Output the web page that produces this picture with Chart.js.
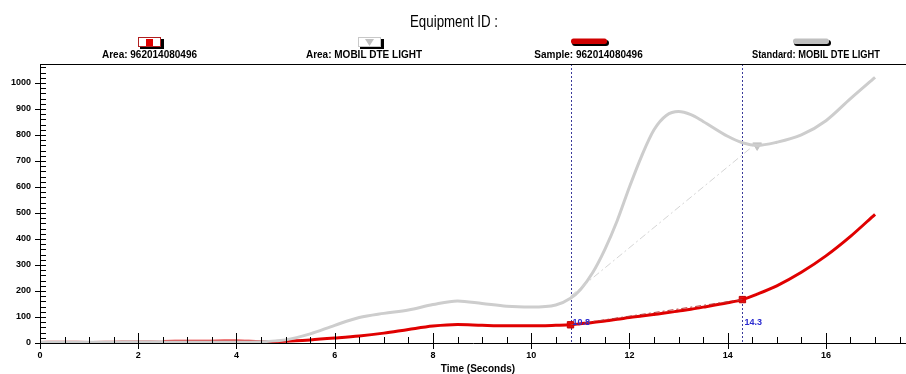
<!DOCTYPE html>
<html><head><meta charset="utf-8">
<script src="https://cdn.jsdelivr.net/npm/chart.js@4/dist/chart.umd.min.js"></script>
<style>html,body{margin:0;padding:0;background:#fff}#wrap{width:906px;height:374px}</style>
</head><body><div id="wrap"><canvas id="c" width="906" height="374"></canvas></div>
<script>
// ---- data ----
const chartTitle = 'Equipment ID :';
const xAxisTitle = 'Time (Seconds)';
const legendLabels = ['Area: 962014080496', 'Area: MOBIL DTE LIGHT', 'Sample: 962014080496', 'Standard: MOBIL DTE LIGHT'];
const time = [0,0.5,1,1.5,2,2.5,3,3.5,4,4.5,5,5.5,6,6.5,7,7.5,8,8.5,9,9.5,10,10.5,10.8,11,11.25,11.5,11.75,12,12.25,12.5,12.75,13,13.25,13.5,14,14.3,14.6,15,15.5,16,16.5,17];
const standard = [3,3,3,3,4,4,4,4,4,5,12,35,68,98,114,127,148,162,152,141,138,146,172,205,270,360,470,600,720,820,875,890,878,852,795,770,760,772,800,855,940,1022];
const sample = [5,6,5,6,7,6,7,7,8,6,7,12,19,27,38,52,65,71,68,66,66,68,70,74,79,85,91,98,104,110,116,123,130,138,155,167,188,220,272,335,410,495];
const markerTimes = [10.8, 14.3];
const markerLabels = ['10.8', '14.3'];
const sampleAreaX = [10.8, 14.3];
const sampleAreaY = [70, 167];
const standardAreaX = [10.8, 14.5];
const standardAreaY = [180, 755];
const standardMarkerX = [14.6];
const standardMarkerY = [760];
const xTickStep = 2, xMinorStep = 0.5, xMax = 17.63;
const yTickStep = 100, yMinorStep = 20, yMax = 1073;

const pts = (xs, ys) => xs.map((x, i) => ({x, y: ys[i]}));
const FONT = "'Liberation Sans', Arial, sans-serif";

const decor = {
  id: 'decor',
  beforeDatasetsDraw(chart) {
    const {ctx, chartArea: a, scales: {x}} = chart;
    ctx.save();
    ctx.strokeStyle = '#3a3a9a';
    ctx.lineWidth = 1;
    ctx.setLineDash([2, 2]);
    markerTimes.forEach(t => {
      const px = Math.round(x.getPixelForValue(t)) + 0.5;
      ctx.beginPath(); ctx.moveTo(px, a.top); ctx.lineTo(px, a.bottom); ctx.stroke();
    });
    ctx.restore();
  },
  afterDraw(chart) {
    const {ctx, chartArea: a, scales: {x, y}} = chart;
    ctx.save();
    ctx.strokeStyle = '#000'; ctx.lineWidth = 1;
    // top border
    ctx.beginPath(); ctx.moveTo(a.left, a.top + 0.5); ctx.lineTo(a.right, a.top + 0.5); ctx.stroke();
    // x ticks
    for (let v = 0; v <= xMax + 1e-9; v += xMinorStep) {
      const px = Math.round(x.getPixelForValue(v)) + 0.5;
      const major = Math.abs(v / xTickStep - Math.round(v / xTickStep)) < 1e-6;
      ctx.beginPath();
      if (major) { ctx.moveTo(px, a.bottom - 10); ctx.lineTo(px, a.bottom + 6); }
      else { ctx.moveTo(px, a.bottom - 6); ctx.lineTo(px, a.bottom); }
      ctx.stroke();
    }
    // y ticks
    for (let v = 0; v <= yMax + 1e-9; v += yMinorStep) {
      const py = Math.round(y.getPixelForValue(v)) + 0.5;
      const major = Math.abs(v / yTickStep - Math.round(v / yTickStep)) < 1e-6;
      ctx.beginPath();
      if (major) { ctx.moveTo(a.left - 5, py); ctx.lineTo(a.left + 6, py); }
      else { ctx.moveTo(a.left, py); ctx.lineTo(a.left + 6, py); }
      ctx.stroke();
    }
    // marker labels
    ctx.fillStyle = '#2a2ad0';
    ctx.font = 'bold 9px ' + FONT;
    ctx.textBaseline = 'middle'; ctx.textAlign = 'left';
    markerTimes.forEach((t, i) => {
      ctx.fillText(markerLabels[i], x.getPixelForValue(t) + 2, 323);
    });
    // title
    ctx.fillStyle = '#000';
    ctx.font = '16px ' + FONT;
    ctx.textAlign = 'center';
    ctx.fillText(chartTitle, 454, 23, 88);
    // x axis title
    ctx.font = 'bold 10px ' + FONT;
    ctx.fillText(xAxisTitle, 478, 369, 82);
    // legend
    const centers = [149.5, 364, 588.5, 816];
    const widths = [99, 128, 113, 128];
    ctx.font = 'bold 10px ' + FONT;
    legendLabels.forEach((t, i) => ctx.fillText(t, centers[i], 55, widths[i]));
    // icon 1: box with red square
    ctx.fillStyle = '#000'; ctx.fillRect(140, 39, 24, 10);
    ctx.fillStyle = '#fff'; ctx.fillRect(138, 37, 23, 10);
    ctx.strokeStyle = '#b02020'; ctx.strokeRect(138.5, 37.5, 22, 9);
    ctx.fillStyle = '#e00000'; ctx.fillRect(146, 39, 7, 7);
    // icon 2: box with grey triangle
    ctx.fillStyle = '#000'; ctx.fillRect(360, 39, 24, 10);
    ctx.fillStyle = '#fff'; ctx.fillRect(358, 37, 23, 10);
    ctx.strokeStyle = '#c8c8c8'; ctx.strokeRect(358.5, 37.5, 22, 9);
    ctx.fillStyle = '#c0c0c0';
    ctx.beginPath(); ctx.moveTo(365, 39); ctx.lineTo(374, 39); ctx.lineTo(369.5, 46); ctx.closePath(); ctx.fill();
    // icon 3 & 4: bars
    const bar = (x0, col) => {
      ctx.fillStyle = '#000';
      ctx.beginPath(); ctx.roundRect(x0 + 1, 40, 37, 6, 3); ctx.fill();
      ctx.fillStyle = col;
      ctx.beginPath(); ctx.roundRect(x0, 38.5, 36, 5.5, 2.5); ctx.fill();
    };
    bar(571, '#d00000');
    bar(793, '#c0c0c0');
    ctx.restore();
  }
};

new Chart(document.getElementById('c'), {
  type: 'line',
  data: {
    datasets: [
      { label: 'Standard chord', data: pts(standardAreaX, standardAreaY), borderColor: '#d4d4d4', borderWidth: 1, borderDash: [7, 3, 2, 3], pointRadius: 0, tension: 0 },
      { label: 'Standard', data: pts(time, standard), borderColor: '#cdcdcd', borderWidth: 3, pointRadius: 0, cubicInterpolationMode: 'monotone' },
      { label: 'Sample chord', data: pts(sampleAreaX, sampleAreaY), borderColor: '#b83838', borderWidth: 1, borderDash: [6, 3, 2, 3], pointRadius: 0, tension: 0 },
      { label: 'Sample', data: pts(time, sample), borderColor: '#e00000', borderWidth: 3, pointRadius: 0, cubicInterpolationMode: 'monotone',
        segment: { borderWidth: c => c.p0.parsed.x < 2.5 ? 1.5 : 3, borderColor: c => c.p0.parsed.x < 2.5 ? '#c83030' : '#e00000' } },
      { label: 'Area sample', data: pts(sampleAreaX, sampleAreaY), showLine: false, pointStyle: 'rect', pointRadius: 4.5, backgroundColor: '#e41010', borderColor: '#c00000', borderWidth: 1 },
      { label: 'Area standard', data: pts(standardMarkerX, standardMarkerY), showLine: false, pointStyle: 'triangle', rotation: 180, pointRadius: 5, backgroundColor: '#c4c4c4', borderColor: '#c4c4c4', borderWidth: 1 }
    ]
  },
  options: {
    responsive: false, animation: false, devicePixelRatio: 1,
    layout: { autoPadding: false, padding: { top: 64, left: 0, right: 0, bottom: 0 } },
    plugins: { legend: { display: false }, tooltip: { enabled: false }, title: { display: false } },
    scales: {
      x: { type: 'linear', min: 0, max: xMax,
        grid: { display: false, drawTicks: false }, border: { display: true, color: '#000', width: 1 },
        ticks: { stepSize: xTickStep, includeBounds: false, autoSkip: false, maxRotation: 0, color: '#000', padding: 7,
          font: { family: FONT, size: 9, weight: 'bold' }, callback: v => String(v) },
        afterFit(s) { s.height = 31; s.paddingLeft = 0; s.paddingRight = 0; } },
      y: { type: 'linear', min: 0, max: yMax,
        grid: { display: false, drawTicks: false }, border: { display: true, color: '#000', width: 1 },
        ticks: { stepSize: yTickStep, includeBounds: false, color: '#000', padding: 9,
          font: { family: FONT, size: 9, weight: 'bold' }, callback: v => String(v) },
        afterFit(s) { s.width = 40; s.paddingTop = 0; s.paddingBottom = 0; } }
    }
  },
  plugins: [decor]
});
</script>
</body></html>
